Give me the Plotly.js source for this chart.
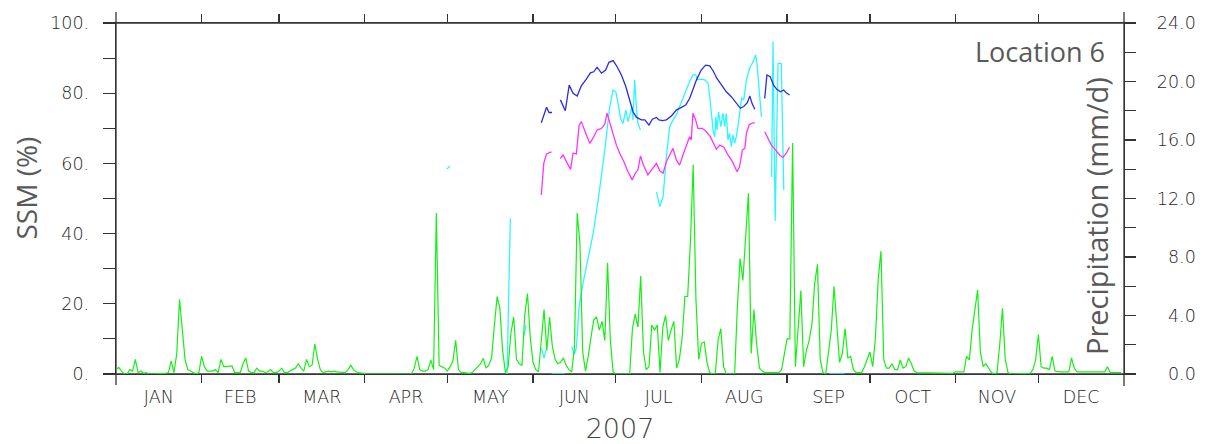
<!DOCTYPE html>
<html><head><meta charset="utf-8">
<script src="https://cdn.plot.ly/plotly-3.0.1.min.js"></script>
<style>html,body{margin:0;padding:0;background:#fff}</style>
</head><body><div id="chart" style="width:1215px;height:444px"></div>
<script>
// ---- axis categories / ticks ----
const monthStarts = [31,59,90,120,151,181,212,243,273,304,334];
const monthMids = [15.5,45,74.5,105,135.5,166,196.5,227.5,258,288.5,319,349.5];
const monthNames = ['JAN','FEB','MAR','APR','MAY','JUN','JUL','AUG','SEP','OCT','NOV','DEC'];
const ssmTickVals = [0,20,40,60,80,100];
const ssmTickText = ['0.','20.','40.','60.','80.','100.'];
const ssmMinorVals = [10,30,50,70,90];
const precipTickVals = [0,4,8,12,16,20,24];
const precipTickText = ['\u20070.0','\u20074.0','\u20078.0','12.0','16.0','20.0','24.0'];
const precipMinorVals = [2,6,10,14,18,22];

// ---- daily precipitation (mm/d), day-of-year 0..364 ----
const precipJan = [0.3,0.45,0.2,0,0,0.3,0.2,1.0,0.1,0.2,0.05,0.1,0,0,0,0.05,0,0,0.05,0.1,0.9,0.1,1.4,5.1,2.8,1.0,0.3,0.2,0.1,0,0.1];
const precipFeb = [1.2,0.5,0.2,0.2,0.2,0.3,0.1,1.0,0.5,0.5,0.5,0.55,0.1,0.1,0.1,0.7,1.1,0.2,0.1,0.1,0.4,0.2,0.2,0.1,0.15,0.3,0.1,0.1];
const precipMar = [0.2,0.4,0.1,0.1,0.2,0.3,0.4,0.7,0.4,0.2,1.0,0.5,0.6,2.05,1.0,0.3,0.1,0.15,0.2,0.15,0.2,0.15,0.15,0.1,0.1,0.3,0.6,0.3,0.15,0.1,0.05];
const precipApr = [0,0,0,0,0,0,0,0,0,0,0,0,0,0,0,0,0,0,0.4,1.2,0.3,0.2,0.2,0.3,0.95,0.3,11.0,0.6,0.5,0.4];
const precipMay = [0.2,0.5,0.9,2.3,0.3,0.1,0.1,0.05,0.05,0.1,0.3,0.5,0.7,1.07,0.4,0.6,1.1,3.3,5.3,4.5,1.6,0.1,0.5,2.8,3.9,1.0,0.7,0.6,4.0,5.5,2.5];
const precipJun = [0.8,0.3,0.15,2.5,4.4,1.6,3.9,1.9,1.0,0.7,0.8,1.1,0.6,0.3,0.15,1.8,11.0,8.9,1.5,0.2,1.2,2.5,3.7,3.9,3.0,3.6,2.3,7.6,2.3,0.15];
const precipJul = [0,0,0,0,0,0,3.1,4.1,3.2,6.7,1.5,0.3,0.5,3.35,3.0,3.35,0.1,3.2,4.0,2.3,3.0,3.6,0.4,1.0,2.5,5.3,5.3,9.0,14.3,5.1,1.0];
const precipAug = [2.1,2.2,0.8,0.1,0,0,2.3,3.1,0.5,0,0,0,0,4.6,7.9,6.4,9.6,12.35,1.4,4.4,2.0,0.4,0.2,0.1,0.1,0.1,0.1,0.1,0.1,0.3,1.5];
const precipSep = [2.4,2.4,15.8,0.5,3.0,5.7,0.5,1.6,2.3,3.4,6.2,7.5,1.0,0.1,0,1.5,3.0,6.0,3.5,0.8,1.4,3.1,1.1,1.2,0.3,0.1,0.1,0.1,0.5,1.0];
const precipOct = [1.5,0.5,2.5,6.5,8.4,1.0,0.4,0.4,0.7,0.3,0.3,0.96,0.4,0.5,1.1,0.7,0.2,0.1,0.1,0.1,0.1,0.1,0.1,0.1,0.1,0.05,0.05,0.05,0.05,0.05,0.05];
const precipNov = [0.15,0.15,0.15,0.15,1.2,0.96,3.0,4.5,5.75,1.5,0.5,0.7,0.4,0.1,0,0.1,2.0,4.5,1.0,0.1,0,0,0,0,0,0.05,0.05,0.05,0.3,0.96];
const precipDec = [2.7,0.5,0.4,0.4,0.3,1.2,0.2,0.15,0.15,0.15,0.15,0.15,1.1,0.4,0.15,0.15,0.15,0.15,0.15,0.15,0.15,0.15,0.15,0.15,0.15,0.5,0.1,0.1,0.1,0.1,0.1];
const precip = [].concat(precipJan,precipFeb,precipMar,precipApr,precipMay,precipJun,precipJul,precipAug,precipSep,precipOct,precipNov,precipDec);
const precipDay = precip.map((v,i)=>i);

// ---- SSM series (%), day-of-year positions; null = gap ----
const blueDay = [154,155.9,156.8,157.9,null,
 160.9,162.7,164.1,165.5,167,168.5,170.3,171.8,173,174.2,175.8,177.3,178.5,180,181.4,183,184.6,186,187.2,188.5,190.3,191.5,193,194.2,195.7,196.6,197.9,199.3,201.1,202.9,204.7,206.3,207.7,208.9,210.2,211.9,213.5,215,216.2,217.6,219.2,221,222.8,224.6,226.1,227.3,228.6,229.5,230.3,231.3,null,
 234.9,235.7,236.9,238.1,239.3,240.6,241.8,242.7,243.9];
const blueSSM = [71.6,76.0,74.5,74.5,null,
 78.1,75.0,82.3,80.0,79.2,82.1,84.0,85.8,86.1,87.4,85.7,86.6,88.8,89.3,87.6,85.2,81.9,77.6,74.7,73.1,72.4,72.4,70.9,72.6,73.1,72.4,72.2,72.4,73.5,75.2,76.0,76.6,78.5,80.9,83.8,86.6,88.0,87.8,86.4,84.2,82.3,80.4,79.0,77.1,75.7,76.2,77.3,79.2,77.1,75.4,null,
 78.5,85.2,84.7,82.3,81.1,80.4,80.9,80.1,79.5];

const magentaDay = [154,154.9,155.9,157.7,null,
 160.9,161.9,163.1,164.6,165.5,166.7,167.7,168.5,170.1,171.6,173,174.2,175.8,177,177.8,179,180,181.2,182.4,183.9,185.4,186.9,188.2,189,189.9,191.1,192.6,194.2,195.7,196.9,198.1,199.3,200.5,201.7,202.9,204.1,205.3,206.5,207.7,208.3,208.9,209.9,210.7,212.3,213.8,215.2,216.4,217.4,218.6,220.1,221.6,223.2,224.9,225.8,226.8,227.7,228.3,229.2,230.1,231.3,null,
 234.9,236.1,237.3,238.9,240.3,241.5,242.7,243.9];
const magentaSSM = [51.0,60.0,62.7,63.3,null,
 61.4,62.4,60.5,58.3,62.9,62.7,70.9,71.9,68.6,65.7,67.6,69.5,70.0,71.2,74.3,70.9,68.6,65.2,62.9,60.5,57.6,55.3,57.4,58.1,62.1,59.3,56.7,58.6,60.0,57.9,57.2,60.5,62.4,64.3,61.0,59.5,62.4,64.8,67.6,66.7,74.3,72.4,70.0,70.0,69.0,67.6,65.7,64.0,65.2,64.6,62.4,60.5,57.6,59.1,63.8,64.3,68.6,70.9,71.4,71.6,null,
 69.0,67.1,65.2,63.8,62.4,61.7,62.9,64.6];

const cyanDay = [119.8,120.9,null,
 141.6,142.8,null,
 147.8,148.5,null,
 154.1,155,155.6,null,
 157.7,162.5,null,
 165,166,166.7,167.7,169.1,170.9,172.8,174.6,175.8,177,177.8,178.8,180,181,181.8,182.7,183.6,184.6,185.4,186.3,186.9,187.2,187.8,188.5,189,189.9,null,
 195.7,196.9,198.1,199.3,200.5,201.7,202.9,204.1,205.3,206.5,207.7,208.9,209.9,210.7,212.0,213.2,214.4,215.0,215.6,216.2,216.8,217.2,217.6,218.2,219.0,219.8,220.4,221.0,221.6,222.2,222.8,223.4,224.0,224.6,225.2,225.8,226.5,227.3,228.3,229.4,230.7,231.6,232.1,232.8,233.7,null,
 237.4,237.9,238.7,239.7,240.9,241.8,null,
 258.4,263.9];
const cyanSSM = [58.4,59.2,null,
 0,44.4,null,
 11,14,null,
 7.3,4.5,6.8,null,
 0,0,null,
 7.8,5.7,7.5,19.2,25.8,32.5,40.1,49.6,56.2,63.8,69.5,76.2,80.9,80.4,77.1,72.8,71.4,75.2,71.9,74.3,76.2,72.4,83.8,75.2,71.4,69.5,null,
 51.9,47.7,50.5,61.9,70.5,72.4,73.8,76.2,79.0,80.9,83.3,85.2,85.2,83.8,84.0,83.8,82.8,79.0,73.3,69.5,67.6,73.3,69.5,74.7,70.5,74.3,70.5,74.3,66.7,68.6,64.8,68.1,65.7,67.6,70.5,74.7,78.5,78.1,83.8,87.1,89.0,90.9,88.5,81.9,73.3,null,
 56.1,94.7,43.6,88.5,88.5,52.4,null,
 0,0];

const tickFont = {family:'DejaVu Sans', size:17.5, color:'#1e1e1e', weight:200};
const labelFont = {family:'Open Sans', color:'#595959'};
const axisColor = '#333333';

const traces = [
  {x:cyanDay, y:cyanSSM, xaxis:'x', yaxis:'y', type:'scatter', mode:'lines', connectgaps:false,
   line:{color:'#2ef6ff', width:1.3}, hoverinfo:'skip'},
  {x:magentaDay, y:magentaSSM, xaxis:'x', yaxis:'y', type:'scatter', mode:'lines', connectgaps:false,
   line:{color:'#ff33ff', width:1.3}, hoverinfo:'skip'},
  {x:blueDay, y:blueSSM, xaxis:'x', yaxis:'y', type:'scatter', mode:'lines', connectgaps:false,
   line:{color:'#2b2be6', width:1.3}, hoverinfo:'skip'},
  {x:precipDay, y:precip, xaxis:'x2', yaxis:'y2', type:'scatter', mode:'lines',
   line:{color:'#14f014', width:1.2}, hoverinfo:'skip'}
];

const ext = 12;
const W = 1008, H = 351;
const layout = {
  width:1215, height:444,
  margin:{l:116, r:91, t:23, b:70, pad:0},
  paper_bgcolor:'#ffffff', plot_bgcolor:'#ffffff',
  showlegend:false,
  xaxis:{range:[0,365], tickmode:'array', tickvals:monthStarts, showticklabels:false,
    ticks:'outside', ticklen:8, tickwidth:1.2, tickcolor:axisColor,
    mirror:'allticks', showline:true, linecolor:axisColor, linewidth:1.3,
    showgrid:false, zeroline:false, layer:'below traces', fixedrange:true},
  xaxis2:{range:[0,365], overlaying:'x', anchor:'y2', side:'bottom', tickmode:'array',
    tickvals:monthMids, ticktext:monthNames, ticks:'', showline:false,
    showgrid:false, zeroline:false, tickfont:tickFont, ticklabelstandoff:10,
    title:{text:'2007', font:{family:'DejaVu Sans', size:27, color:'#444444', weight:200}, standoff:16},
    fixedrange:true},
  yaxis:{range:[0,100], tickmode:'array', tickvals:ssmTickVals, ticktext:ssmTickText,
    ticks:'outside', ticklen:12, tickwidth:1.2, tickcolor:axisColor,
    minor:{tickmode:'array', tickvals:ssmMinorVals, ticks:'outside', ticklen:12, tickwidth:1.2, tickcolor:axisColor, showgrid:false},
    showline:true, linecolor:axisColor, linewidth:1.3, showgrid:false, zeroline:false,
    tickfont:tickFont, ticklabelstandoff:10, layer:'below traces', fixedrange:true},
  yaxis2:{range:[0,24], overlaying:'y', anchor:'x2', side:'right', tickmode:'array',
    tickvals:precipTickVals, ticktext:precipTickText,
    ticks:'outside', ticklen:11, tickwidth:1.2, tickcolor:axisColor,
    minor:{tickmode:'array', tickvals:precipMinorVals, ticks:'outside', ticklen:11, tickwidth:1.2, tickcolor:axisColor, showgrid:false},
    showline:true, linecolor:axisColor, linewidth:1.3, showgrid:false, zeroline:false,
    tickfont:tickFont, ticklabelstandoff:17, layer:'below traces', fixedrange:true},
  shapes:[
    {type:'line', xref:'paper', yref:'paper', x0:0, x1:0, y0:-11/H, y1:1+11/H, line:{color:axisColor, width:1.3}, layer:'below'},
    {type:'line', xref:'paper', yref:'paper', x0:1, x1:1, y0:-12/H, y1:1+11/H, line:{color:axisColor, width:1.3}, layer:'below'},
    {type:'line', xref:'paper', yref:'paper', x0:-ext/W, x1:1+10/W, y0:1, y1:1, line:{color:axisColor, width:1.3}, layer:'below'},
    {type:'line', xref:'paper', yref:'paper', x0:-ext/W, x1:1+10/W, y0:0, y1:0, line:{color:axisColor, width:1.3}, layer:'below'}
  ],
  annotations:[
    {text:'SSM (%)', xref:'paper', yref:'paper', x:-91/W, y:(374-188.5)/H, textangle:-90,
     xanchor:'center', yanchor:'middle', showarrow:false, font:Object.assign({size:28}, labelFont)},
    {text:'Precipitation (mm/d)', xref:'paper', yref:'paper', x:(1096-116)/W, y:(374-216)/H, textangle:-90,
     xanchor:'center', yanchor:'middle', showarrow:false, font:Object.assign({size:29}, labelFont)},
    {text:'Location 6', xref:'paper', yref:'paper', x:(1107-116)/W, y:(374-52)/H,
     xanchor:'right', yanchor:'middle', showarrow:false, font:Object.assign({size:27}, labelFont)}
  ]
};

Plotly.newPlot('chart', traces, layout, {staticPlot:true, displayModeBar:false});
</script></body></html>
